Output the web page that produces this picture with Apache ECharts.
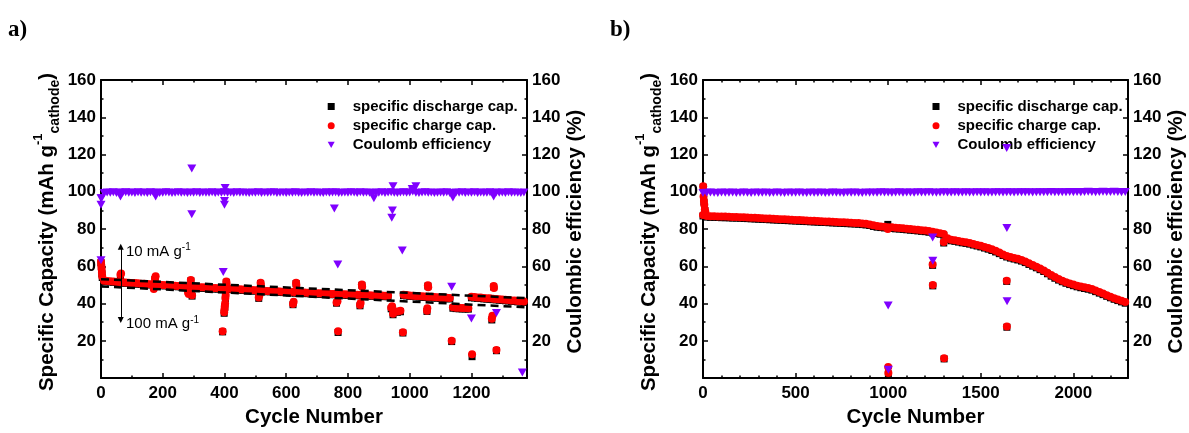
<!DOCTYPE html>
<html><head><meta charset="utf-8">
<script src="https://cdn.jsdelivr.net/npm/echarts@6/dist/echarts.min.js"></script>
<style>html,body{margin:0;padding:0;background:#fff}#c{width:1189px;height:433px}</style>
</head><body><div id="c"></div>
<script>
// ---------------- data ----------------
const STEP_A = 10;   // cycle spacing of the band values in panel a
const STEP_B = 20;   // cycle spacing of the band values in panel b
const seriesNames = ['specific discharge cap.', 'specific charge cap.', 'Coulomb efficiency'];
const xTicksA = [0, 200, 400, 600, 800, 1000, 1200];
const xTicksB = [0, 500, 1000, 1500, 2000];
const yTicks = [20, 40, 60, 80, 100, 120, 140, 160];

// panel a: charge capacity, every 10 cycles from 0
const chgA = [62.5,
 52.3,52.1,52.0,51.8,51.7,51.6,51.5,51.3,51.2,
 51.1,51.0,50.9,50.7,50.6,50.5,50.4,50.3,50.2,50.1,
 50.0,49.9,49.8,49.7,49.6,49.5,49.4,49.3,49.2,49.1,
 49.0,48.9,48.8,48.7,48.6,48.5,48.4,48.3,48.2,48.1,
 48.3,48.2,48.0,47.9,47.8,47.7,47.6,47.5,47.4,47.3,
 47.2,47.3,47.0,46.9,46.8,46.8,46.7,46.6,46.5,46.4,
 46.3,46.2,46.3,46.1,46.0,45.9,45.9,45.8,45.7,45.6,
 45.6,45.5,45.4,45.4,45.3,45.2,45.3,45.1,45.0,45.0,
 44.9,44.8,44.8,44.7,44.7,44.6,44.6,44.5,44.4,44.4,
 44.3,44.3,44.2,44.2,37.8,35.9,35.8,36.1,44.8,44.6,
 44.4,44.2,44.1,44.0,43.9,43.8,43.7,43.6,43.5,43.4,
 43.3,43.2,43.1,43.0,38.0,37.8,37.7,37.6,37.6,37.5,
 43.6,43.5,43.3,43.2,43.0,42.9,42.8,42.6,42.5,42.3,
 42.2,42.0,41.9,41.7,41.6,41.4,41.3,41.1];
// panel a: discharge capacity, every 10 cycles from 0
const dchA = [62.0,
 51.9,51.7,51.6,51.4,51.3,51.2,51.0,50.9,50.8,
 50.7,50.6,50.4,50.3,50.2,50.1,50.0,49.9,49.7,49.6,
 49.6,49.5,49.3,49.2,49.2,49.0,48.9,48.8,48.8,48.6,
 48.5,48.5,48.3,48.2,48.2,48.0,47.9,47.8,47.8,47.6,
 47.9,47.7,47.6,47.4,47.4,47.2,47.1,47.0,47.0,46.8,
 46.7,46.8,46.6,46.4,46.4,46.3,46.2,46.1,46.0,45.9,
 45.9,45.7,45.8,45.6,45.6,45.4,45.4,45.3,45.2,45.2,
 45.1,45.0,45.0,44.9,44.8,44.8,44.8,44.6,44.6,44.5,
 44.4,44.4,44.3,44.3,44.2,44.1,44.1,44.0,44.0,43.9,
 43.8,43.8,43.7,43.7,37.2,35.4,35.3,35.6,44.3,44.1,
 43.9,43.8,43.6,43.5,43.4,43.3,43.2,43.1,43.0,42.9,
 42.8,42.7,42.6,42.5,37.5,37.3,37.2,37.1,37.1,37.0,
 43.1,43.0,42.8,42.7,42.5,42.4,42.3,42.1,42.0,41.8,
 41.7,41.5,41.4,41.2,41.1,40.9,40.8,40.6];
// panel a: coulombic efficiency, every 10 cycles from 0
const ceA = [96.5,
 99.3,99.6,99.5,99.7,99.4,99.6,99.5,99.8,99.5,
 99.6,99.4,99.7,99.5,99.6,99.3,99.7,99.5,99.6,99.4,
 99.5,99.7,99.6,99.4,99.5,99.8,99.5,99.6,99.3,99.6,
 99.5,99.7,99.4,99.6,99.5,99.5,99.7,99.4,99.6,99.5,
 99.8,99.5,99.6,99.4,99.7,99.5,99.6,99.5,99.3,99.6,
 99.5,99.7,99.4,99.6,99.5,99.6,99.7,99.4,99.5,99.6,
 99.4,99.6,99.5,99.7,99.5,99.4,99.6,99.5,99.7,99.5,
 99.6,99.5,99.4,99.8,99.5,99.6,99.7,99.4,99.5,99.6,
 99.5,99.8,99.6,99.4,99.7,99.5,99.6,99.5,98.9,99.6,
 99.5,99.7,99.4,99.6,99.8,99.5,99.4,99.6,99.7,99.5,
 99.6,100.2,99.5,99.4,99.6,99.7,99.5,99.6,99.4,99.5,
 99.6,99.5,99.7,99.4,98.9,99.6,99.5,99.7,99.4,99.6,
 99.5,99.7,99.4,99.6,99.5,99.5,99.7,99.4,99.6,99.5,
 99.6,99.4,99.7,99.5,99.6,99.5,99.4,99.6];
// panel a: isolated points [cycle, value]
const chgOutA = [[1,60.5],[2,58.5],[3,56.5],[4,54.5],[63,55.5],[65,56.2],[171,47.8],[175,53.5],[177,54.6],
 [282,46.0],[284,45.2],[291,52.6],[295,44.5],[394,25.1],[399,35.3],[400,37.0],[401,38.5],[402,40.1],[403,43.0],
 [404,44.6],[406,51.9],[407,50.5],[511,43.2],[513,44.5],[517,51.2],[518,50.0],[622,39.8],[624,41.0],[632,51.2],
 [633,50.0],[763,40.6],[766,41.2],[768,25.1],[839,39.2],[841,40.3],[845,50.3],[846,49.0],[943,38.5],[946,34.5],
 [978,24.6],[1056,36.2],[1057,37.5],[1059,49.8],[1060,48.8],[1136,20.0],[1202,12.8],[1266,31.8],[1268,33.5],
 [1272,49.4],[1273,48.3],[1281,15.1]];
const dchOutA = [[1,60],[2,58],[3,56],[4,54],[63,55],[175,53],[291,52.2],[295,44],[394,24.8],[399,34.8],[401,38],
 [403,42.5],[406,51.4],[511,42.8],[517,50.8],[622,39.4],[632,50.8],[763,40.2],[768,24.5],[839,38.8],[845,49.8],
 [946,34],[978,24.2],[1056,35.8],[1059,49.4],[1136,19.6],[1202,11.5],[1266,31.2],[1272,48.9],[1281,14.7]];
const ceOutA = [[0,63.2],[0,93],[2,96.5],[63,97.5],[177,97.5],[294,112.5],[294,88],[396,57],[400,93],[400,95],
 [402,102],[756,91],[767,61],[884,96.5],[942,86],[944,90],[946,103],[976,68.5],[1008,101.5],[1020,103],
 [1136,49],[1140,97],[1200,32],[1272,97.5],[1281,35],[1365,3]];
// panel a: dashed guide lines [x0, y0, x1, y1]
const guidesA = [[0,53.1,1380,42.9],[0,49.2,1380,38.0]];
// panel a: current-density arrow [cycle, top, bottom]
const arrowA = [64, 70.5, 31.2];

// panel b: charge capacity, every 20 cycles from 0
const chgB = [87.5,87.0,86.9,86.9,86.8,86.7,86.7,86.6,86.5,86.5,
 86.4,86.3,86.2,86.1,86.0,85.9,85.8,85.7,85.6,85.5,
 85.4,85.3,85.2,85.1,85.0,84.9,84.8,84.7,84.6,84.5,
 84.4,84.3,84.2,84.1,84.0,83.9,83.8,83.7,83.6,83.5,
 83.4,83.3,83.2,83.0,82.8,82.5,82.0,81.6,81.4,81.2,
 81.0,80.9,80.7,80.6,80.4,80.2,80.0,79.8,79.6,79.4,
 79.2,78.9,78.5,78.2,77.8,77.3,75.0,74.3,74.0,73.6,
 73.2,72.9,72.5,72.0,71.5,71.0,70.4,69.8,69.1,68.3,
 67.4,66.4,65.6,65.0,64.5,64.0,63.4,62.6,61.6,60.7,
 59.8,58.8,57.8,56.6,55.3,54.2,53.2,52.3,51.5,50.8,
 50.2,49.6,49.1,48.7,48.3,47.8,47.0,46.2,45.4,44.5,
 43.7,42.9,42.2,41.5,40.8];
const dchB = [87.0,86.4,86.3,86.3,86.2,86.1,86.1,86.0,85.9,85.9,
 85.8,85.7,85.6,85.5,85.4,85.3,85.2,85.1,85.0,84.9,
 84.8,84.7,84.6,84.5,84.4,84.3,84.2,84.1,84.0,83.9,
 83.8,83.7,83.6,83.5,83.4,83.3,83.2,83.1,83.0,82.9,
 82.8,82.7,82.6,82.4,82.2,81.9,81.4,81.0,80.8,80.6,
 80.4,80.3,80.1,80.0,79.8,79.6,79.4,79.2,79.0,78.8,
 78.6,78.3,77.9,77.6,77.2,76.7,74.4,73.7,73.4,73.0,
 72.6,72.3,71.9,71.4,70.9,70.4,69.8,69.2,68.5,67.7,
 66.8,65.8,65.0,64.4,63.9,63.4,62.8,62.0,61.0,60.1,
 59.2,58.2,57.2,56.0,54.7,53.6,52.6,51.7,50.9,50.2,
 49.6,49.0,48.5,48.1,47.7,47.2,46.4,45.6,44.8,43.9,
 43.1,42.3,41.6,40.9,40.2];
const ceB = [99.4,99.5,99.6,99.5,99.4,99.6,99.5,99.5,99.6,99.4,
 99.5,99.6,99.5,99.4,99.6,99.5,99.5,99.6,99.4,99.5,
 99.6,99.5,99.4,99.6,99.5,99.5,99.6,99.5,99.4,99.6,
 99.5,99.5,99.6,99.4,99.5,99.6,99.5,99.5,99.4,99.6,
 99.5,99.6,99.5,99.4,99.6,99.5,99.6,99.5,99.7,99.6,
 99.6,99.5,99.6,99.7,99.5,99.6,99.6,99.5,99.7,99.6,
 99.6,99.7,99.6,99.5,99.6,99.7,99.6,99.6,99.7,99.6,
 99.6,99.7,99.6,99.6,99.7,99.6,99.7,99.6,99.6,99.7,
 99.7,99.6,99.7,99.7,99.6,99.7,99.8,99.7,99.7,99.6,
 99.7,99.8,99.7,99.8,99.9,99.8,99.7,99.8,99.8,99.9,
 99.8,99.9,99.8,99.9,100.0,99.9,99.8,99.9,100.0,99.9,
 99.9,100.0,99.9,99.8,99.9];
const chgOutB = [[1,103],[3,97.5],[5,95],[7,93],[10,90.5],[13,89],[998,80],[1000,6],[1001,2.7],
 [1240,61],[1241,50],[1300,73],[1302,10.7],[1640,52.3],[1641,27.7]];
const dchOutB = [[1,102.5],[5,94.5],[10,90],[998,82.5],[1001,2.2],[1240,60.5],[1241,49.5],[1300,72.5],
 [1302,10.3],[1640,51.9],[1641,27.3]];
const ceOutB = [[1000,39],[1001,4.5],[1240,75.5],[1241,63],[1640,123.5],[1641,80.5],[1642,41.3]];

// ---------------- chart ----------------
const FONT = "'Liberation Sans', Arial, Helvetica, sans-serif";
const BLACK = '#000000', RED = '#FF0000', PURPLE = '#7F00FF';
const TRI = 'path://M0,0L10,0L5,8.66Z';

function toPairs(step, arr) { return arr.map((v, i) => [i * step, v]); }

const lineStyle = { color: BLACK, width: 2 };
const tickStyle = { color: BLACK, width: 1.5 };

function xAxesFor(grid, max, majors, minorStep) {
  const minors = [];
  for (let v = minorStep; v < max; v += minorStep) minors.push(v);
  const base = { type: 'value', gridIndex: grid, min: 0, max: max, splitLine: { show: false } };
  const major = (pos, withLabel) => Object.assign({}, base, {
    position: pos,
    axisLine: { onZero: false, lineStyle: lineStyle },
    axisTick: { inside: true, length: 5, lineStyle: tickStyle, customValues: majors },
    axisLabel: withLabel ? { show: true, customValues: majors, margin: 7, color: BLACK, fontFamily: FONT,
      fontWeight: 'bold', fontSize: 17, formatter: v => String(v) } : { show: false },
    name: withLabel ? 'Cycle Number' : '',
    nameLocation: 'middle', nameGap: 28,
    nameTextStyle: { color: BLACK, fontFamily: FONT, fontWeight: 'bold', fontSize: 20.5 }
  });
  const minor = (pos) => Object.assign({}, base, {
    position: pos,
    axisLine: { show: false, onZero: false },
    axisTick: { inside: true, length: 2.5, lineStyle: tickStyle, customValues: minors },
    axisLabel: { show: false }
  });
  return [major('bottom', true), minor('bottom'), major('top', false), minor('top')];
}

function yAxesFor(grid) {
  const mk = (pos) => ({
    type: 'value', gridIndex: grid, position: pos, min: 0, max: 160, interval: 20,
    splitLine: { show: false },
    axisLine: { onZero: false, lineStyle: lineStyle },
    axisTick: { inside: true, length: 5, lineStyle: tickStyle },
    minorTick: { show: true, splitNumber: 2, length: 2.5, lineStyle: tickStyle },
    axisLabel: { margin: 5, color: BLACK, fontFamily: FONT, fontWeight: 'bold', fontSize: 17,
      formatter: v => (yTicks.indexOf(v) >= 0 ? String(v) : '') }
  });
  return [mk('left'), mk('right')];
}

function seriesFor(xIdx, yLeft, yRight, step, dch, dchOut, chg, chgOut, ce, ceOut, extra) {
  const s = [
    { name: seriesNames[0], type: 'scatter', xAxisIndex: xIdx, yAxisIndex: yLeft, symbol: 'rect', symbolSize: 7,
      itemStyle: { color: BLACK, opacity: 1 }, clip: false, z: 2, data: toPairs(step, dch).concat(dchOut) },
    { name: seriesNames[1], type: 'scatter', xAxisIndex: xIdx, yAxisIndex: yLeft, symbol: 'circle', symbolSize: 8,
      itemStyle: { color: RED, opacity: 1 }, clip: false, z: 3, data: toPairs(step, chg).concat(chgOut) },
    { name: seriesNames[2], type: 'scatter', xAxisIndex: xIdx, yAxisIndex: yRight, symbol: TRI, symbolSize: [9, 8],
      itemStyle: { color: PURPLE, opacity: 1 }, clip: false, z: 4, data: toPairs(step, ce).concat(ceOut) }
  ];
  if (extra) extra(s);
  return s;
}

const seriesA = seriesFor(0, 0, 1, STEP_A, dchA, dchOutA, chgA, chgOutA, ceA, ceOutA, s => {
  s[1].markLine = {
    silent: true, symbol: 'none', animation: false, z: 5,
    label: { show: false },
    lineStyle: { color: BLACK, width: 2.5, type: [8, 5], opacity: 1 },
    data: guidesA.map(g => [{ coord: [g[0], g[1]] }, { coord: [g[2], g[3]] }])
  };
  s[0].markLine = {
    silent: true, symbol: ['triangle', 'triangle'], symbolSize: 6, animation: false, z: 5,
    label: { show: false },
    lineStyle: { color: BLACK, width: 1, type: 'solid', opacity: 1 },
    data: [[{ coord: [arrowA[0], arrowA[1]] }, { coord: [arrowA[0], arrowA[2]] }]]
  };
});
const seriesB = seriesFor(4, 2, 3, STEP_B, dchB, dchOutB, chgB, chgOutB, ceB, ceOutB);

function legendFor(left) {
  return {
    left: left, top: 94, orient: 'vertical', itemWidth: 7, itemHeight: 7, itemGap: 4.2,
    selectedMode: false,
    textStyle: { color: BLACK, fontFamily: FONT, fontWeight: 'bold', fontSize: 15, lineHeight: 15, padding: [0, 0, 0, 13] },
    data: [
      { name: seriesNames[0], icon: 'rect', itemStyle: { color: BLACK, opacity: 1 } },
      { name: seriesNames[1], icon: 'circle', itemStyle: { color: RED, opacity: 1 } },
      { name: seriesNames[2], icon: TRI, itemStyle: { color: PURPLE, opacity: 1 } }
    ]
  };
}

function capTitle(x, y) {
  return {
    type: 'text', x: x, y: y, rotation: Math.PI / 2, silent: true,
    style: {
      text: '{m|Specific Capacity (mAh g}{s|-1}{b|cathode}{m|)}',
      align: 'center', verticalAlign: 'middle',
      rich: {
        m: { fontFamily: FONT, fontWeight: 'bold', fontSize: 20.5, lineHeight: 30, fill: BLACK, color: BLACK },
        s: { fontFamily: FONT, fontWeight: 'bold', fontSize: 13, lineHeight: 15, verticalAlign: 'top', fill: BLACK, color: BLACK },
        b: { fontFamily: FONT, fontWeight: 'bold', fontSize: 14, lineHeight: 12, verticalAlign: 'bottom', fill: BLACK, color: BLACK }
      }
    }
  };
}
function ceTitle(x, y) {
  return {
    type: 'text', x: x, y: y, rotation: Math.PI / 2, silent: true,
    style: { text: 'Coulombic efficiency (%)', align: 'center', verticalAlign: 'middle',
      fontFamily: FONT, fontWeight: 'bold', fontSize: 20.5, fill: BLACK }
  };
}
function rateLabel(x, y, txt) {
  return {
    type: 'text', x: x, y: y, silent: true,
    style: {
      text: '{m|' + txt + '}{s|-1}', align: 'left', verticalAlign: 'middle',
      rich: {
        m: { fontFamily: FONT, fontSize: 15, lineHeight: 18, fill: BLACK, color: BLACK },
        s: { fontFamily: FONT, fontSize: 10, lineHeight: 10, verticalAlign: 'top', fill: BLACK, color: BLACK }
      }
    }
  };
}
function panelLabel(x, txt) {
  return { type: 'text', x: x, y: 30, silent: true,
    style: { text: txt, align: 'left', verticalAlign: 'middle', fontFamily: "'Liberation Serif', 'Times New Roman', serif",
      fontWeight: 'bold', fontSize: 23, fill: BLACK } };
}

const option = {
  animation: false,
  backgroundColor: '#ffffff',
  grid: [
    { left: 101, right: 662, top: 80, bottom: 50 },
    { left: 703, right: 61, top: 80, bottom: 50 }
  ],
  xAxis: xAxesFor(0, 1380, xTicksA, 100).concat(xAxesFor(1, 2295, xTicksB, 100)),
  yAxis: yAxesFor(0).concat(yAxesFor(1)),
  legend: [legendFor(322.7), legendFor(927.5)],
  series: seriesA.concat(seriesB),
  graphic: [
    panelLabel(8, 'a)'), panelLabel(610, 'b)'),
    capTitle(47.3, 232), capTitle(649.3, 232),
    ceTitle(575.8, 231.5), ceTitle(1176.3, 231.5),
    rateLabel(126, 251.5, '10 mA g'), rateLabel(126, 324, '100 mA g')
  ]
};

const chart = echarts.init(document.getElementById('c'), null, { renderer: 'canvas' });
chart.setOption(option);
</script>
</body></html>
